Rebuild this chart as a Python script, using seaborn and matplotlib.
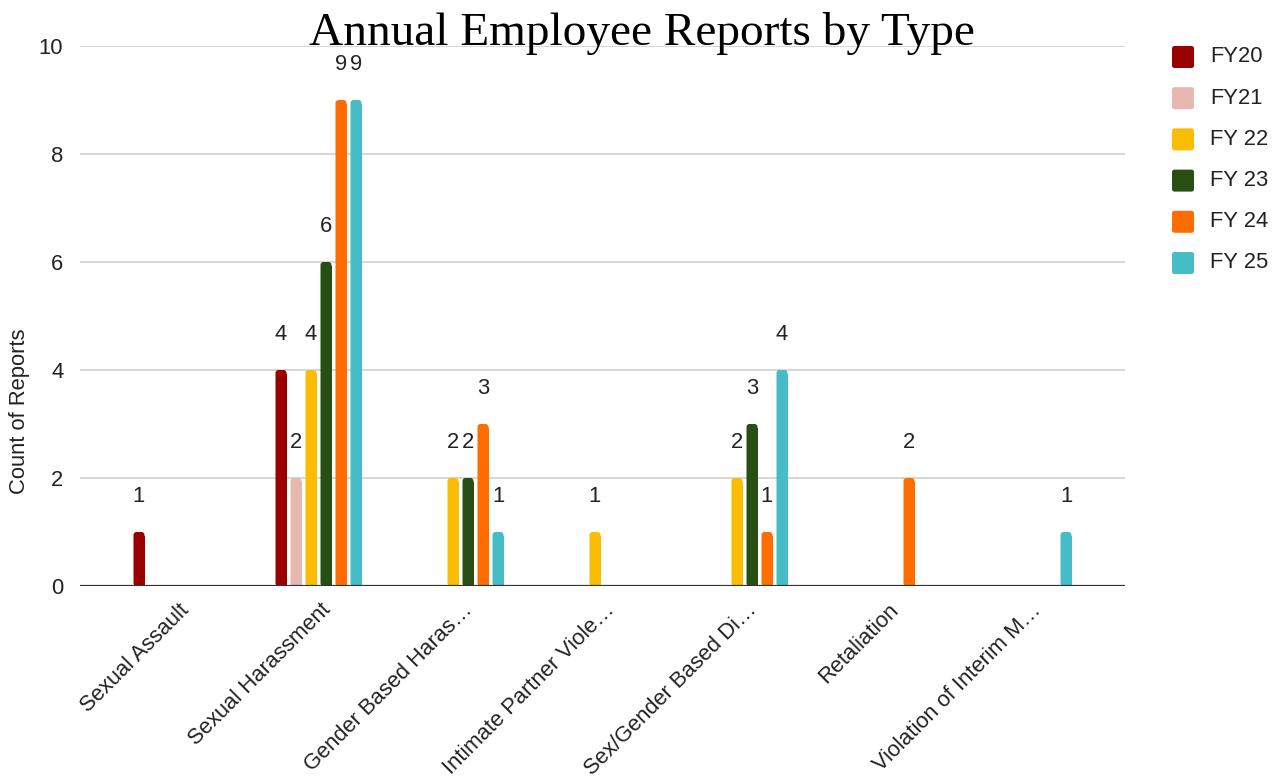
import numpy as np
import pandas as pd
import seaborn as sns
import matplotlib.pyplot as plt
from matplotlib.patches import FancyBboxPatch, Rectangle
from matplotlib.transforms import ScaledTranslation

# ---- data ----
categories = ["Sexual Assault", "Sexual Harassment", "Gender Based Haras\u2026",
              "Intimate Partner Viole\u2026", "Sex/Gender Based Di\u2026",
              "Retaliation", "Violation of Interim M\u2026"]
years = ["FY20", "FY21", "FY 22", "FY 23", "FY 24", "FY 25"]
fy20 = [1, 4, 0, 0, 0, 0, 0]
fy21 = [0, 2, 0, 0, 0, 0, 0]
fy22 = [0, 4, 2, 1, 2, 0, 0]
fy23 = [0, 6, 2, 0, 3, 0, 0]
fy24 = [0, 9, 3, 0, 1, 2, 0]
fy25 = [0, 9, 1, 0, 4, 0, 1]
colors = ["#990000", "#e6b8af", "#fbbc04", "#274e13", "#ff6d01", "#46bdc6"]
y_ticks = [0, 2, 4, 6, 8, 10]

series = [fy20, fy21, fy22, fy23, fy24, fy25]
df = pd.DataFrame({
    "type": [c for s in series for c in categories],
    "year": [y for y, s in zip(years, series) for _ in s],
    "count": [v for s in series for v in s],
})

W, H = 1283, 776
sns.set_theme(style="white")
plt.rcParams["font.family"] = ["Liberation Sans", "DejaVu Sans"]
TXT = "#222222"
FS = 15.8

fig = plt.figure(figsize=(W / 100, H / 100), dpi=100)
fig.patch.set_facecolor("white")
ax = fig.add_axes([80 / W, 1 - 586 / H, 1045 / W, 540 / H])

slot_px = 15.0      # spacing between neighbouring bars
group_px = 142.0    # spacing between categories
bar_px = 11.0       # visible bar width

sns.barplot(data=df, x="type", y="count", hue="year", order=categories,
            hue_order=years, palette=colors, saturation=1, errorbar=None,
            width=6 * slot_px / group_px, legend=False, ax=ax)

ax.set_xlim(-(176.5 - 80) / group_px, -(176.5 - 80) / group_px + 1045 / group_px)
ax.set_ylim(0, 10)
ax.set_yticks(y_ticks)
ax.set_yticklabels([str(t) for t in y_ticks], fontsize=FS, color=TXT)
ax.tick_params(axis="y", length=0, pad=12)
ax.tick_params(axis="x", length=0, pad=0)
ax.set_xlabel("")
ax.set_ylabel("")
for s in ax.spines.values():
    s.set_visible(False)
ax.grid(axis="y", color="#cccccc", linewidth=1.1)
ax.set_axisbelow(True)
ax.axhline(0, color="#333333", linewidth=1.6, zorder=3)

# pixel sizes in data units
xu = 1.0 / group_px
yu = 10.0 / 540.0
bw = bar_px * xu
r = 3.0 * xu

# replace the plain bars with round-topped ones of the narrower width
for cont, col in zip(ax.containers, colors):
    for p in list(cont.patches):
        h = p.get_height()
        cx = p.get_x() + p.get_width() / 2
        p.set_visible(False)
        if h <= 0:
            continue
        top = FancyBboxPatch((cx - bw / 2, 0), bw, h,
                             boxstyle=f"round,pad=0,rounding_size={r}",
                             mutation_aspect=yu / xu, facecolor=col,
                             edgecolor="none", zorder=2)
        ax.add_patch(top)
        ax.add_patch(Rectangle((cx - bw / 2, 0), bw, h - 4 * yu,
                               facecolor=col, edgecolor="none", zorder=2))
        ax.annotate(f"{h:g}", (cx, h), xytext=(0, 35), textcoords="offset pixels",
                    ha="center", va="center", fontsize=FS, color=TXT)

# rotated category labels
ax.set_xticks(range(len(categories)))
ax.set_xticklabels(categories, rotation=45, ha="right", va="center",
                   rotation_mode="anchor", fontsize=FS, color=TXT)
for lbl in ax.get_xticklabels():
    lbl.set_transform(lbl.get_transform() +
                      ScaledTranslation(9 / 100, -21 / 100, fig.dpi_scale_trans))

# title and axis title
fig.text(0.5, 1 - 45 / H, "Annual Employee Reports by Type", ha="center",
         va="baseline", fontsize=34, family=["Liberation Serif", "DejaVu Serif"],
         color="#000000")
fig.text(20 / W, 1 - 411 / H, "Count of Reports", rotation=90, ha="center",
         va="center", fontsize=FS, color=TXT)

# legend
sq = 22
for i, (lab, col) in enumerate(zip(years, colors)):
    yc = 57 + 41.2 * i
    fig.patches.append(FancyBboxPatch(
        (1172 / W, 1 - (yc + sq / 2) / H), sq / W, sq / H,
        boxstyle=f"round,pad=0,rounding_size={2.5 / W}",
        mutation_aspect=W / H, facecolor=col, edgecolor="none",
        transform=fig.transFigure, figure=fig))
    fig.text(1210 / W, 1 - yc / H, lab, ha="left", va="center",
             fontsize=FS, color=TXT)

fig.savefig("out.png", dpi=100, facecolor="white")
